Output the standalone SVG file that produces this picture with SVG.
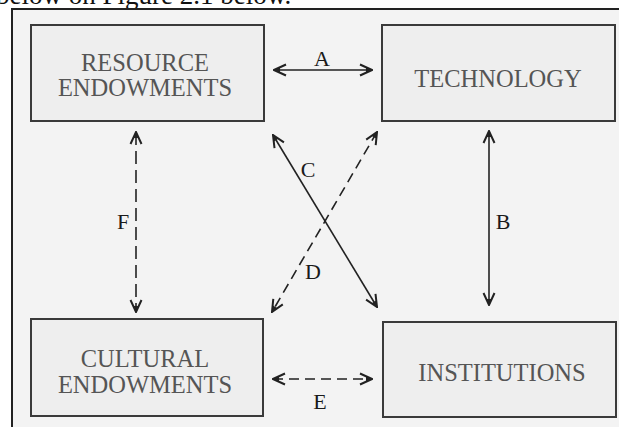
<svg xmlns="http://www.w3.org/2000/svg" width="619" height="427" viewBox="0 0 619 427">
<style>
.box{fill:#eeeeee;stroke:#3a3a3a;stroke-width:2}
.lbl{font-family:"Liberation Serif","Times New Roman",serif;font-size:24.5px;fill:#555;text-anchor:middle}
.ltr{font-family:"Liberation Serif","Times New Roman",serif;font-size:22px;fill:#1a1a1a;text-anchor:middle}
.solid{stroke:#222;stroke-width:1.6;fill:none}
.dash{stroke:#222;stroke-width:1.6;fill:none;stroke-dasharray:10 6}
</style>
<defs>
<marker id="ah" viewBox="0 0 14 14" refX="13" refY="7" markerWidth="14" markerHeight="14" markerUnits="userSpaceOnUse" orient="auto-start-reverse">
<path d="M1,1.5 L13,7 L1,12.5" fill="none" stroke="#222" stroke-width="2" stroke-linejoin="miter"/>
<path d="M7,4.5 L13,7 L7,9.5 Z" fill="#222"/>
</marker>
</defs>
<rect x="0" y="0" width="619" height="427" fill="#ffffff"/>
<text x="-4" y="4" font-family="Liberation Serif, serif" font-size="27" fill="#111">below on Figure 2.1 below.</text>
<rect x="12" y="9" width="612" height="425" fill="#f3f3f3" stroke="#222" stroke-width="2"/>
<g id="resource">
<rect class="box" x="31" y="25" width="233" height="96"/>
<text class="lbl" x="145" y="71">RESOURCE</text>
<text class="lbl" x="145" y="96">ENDOWMENTS</text>
</g>
<g id="technology">
<rect class="box" x="382" y="25" width="233" height="96"/>
<text class="lbl" x="498" y="87">TECHNOLOGY</text>
</g>
<g id="cultural">
<rect class="box" x="31" y="319" width="232" height="97"/>
<text class="lbl" x="145" y="367">CULTURAL</text>
<text class="lbl" x="145" y="393">ENDOWMENTS</text>
</g>
<g id="institutions">
<rect class="box" x="383" y="322" width="233" height="95"/>
<text class="lbl" x="502" y="381">INSTITUTIONS</text>
</g>
<g id="connectors">
<line class="solid" x1="274" y1="70" x2="372" y2="70" marker-start="url(#ah)" marker-end="url(#ah)"/>
<text class="ltr" x="322" y="66">A</text>
<line class="solid" x1="489" y1="131" x2="489" y2="305" marker-start="url(#ah)" marker-end="url(#ah)"/>
<text class="ltr" x="503" y="229">B</text>
<line class="solid" x1="273" y1="135" x2="377" y2="307" marker-start="url(#ah)" marker-end="url(#ah)"/>
<text class="ltr" x="308" y="177">C</text>
<line class="dash" x1="377" y1="132" x2="272" y2="312" marker-start="url(#ah)" marker-end="url(#ah)"/>
<text class="ltr" x="313" y="279">D</text>
<line class="dash" x1="273" y1="379" x2="372" y2="379" marker-start="url(#ah)" marker-end="url(#ah)"/>
<text class="ltr" x="320" y="409">E</text>
<line class="dash" x1="136" y1="132" x2="136" y2="312" marker-start="url(#ah)" marker-end="url(#ah)" style="stroke-dasharray:13 6"/>
<text class="ltr" x="123" y="229">F</text>
</g>
</svg>
